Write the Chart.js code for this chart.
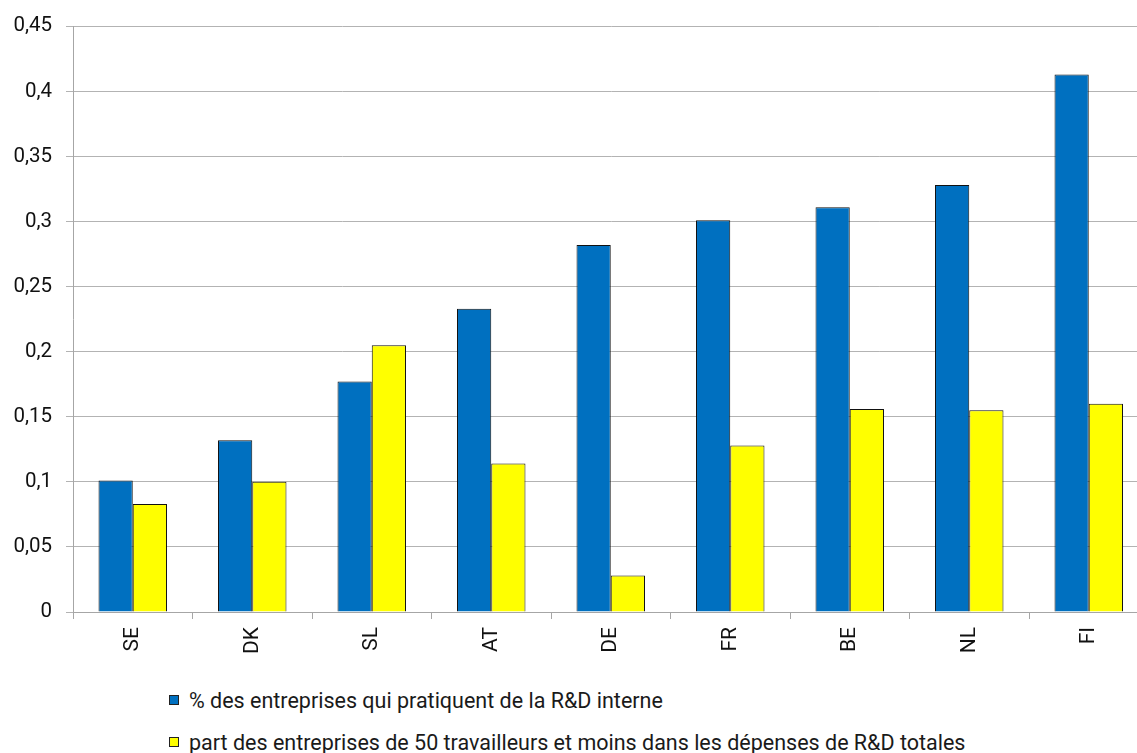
<!DOCTYPE html>
<html lang="fr">
<head>
<meta charset="utf-8">
<title>R&amp;D interne et part des petites entreprises</title>
<script src="https://cdn.jsdelivr.net/npm/chart.js@4/dist/chart.umd.min.js"></script>
<style>
  html, body { margin: 0; padding: 0; background: #fff; overflow: hidden; }
  #wrap { position: relative; width: 1137px; height: 753px; overflow: hidden; }
  #chartBox { position: absolute; left: 0; top: 0; width: 1160px; height: 670px; }
  #legend { position: absolute; left: 169px; top: 689px; font-family: Roboto, "Liberation Sans", sans-serif; font-size: 21.5px; color: #1a1a1a; }
  .item { display: flex; align-items: center; height: 22px; margin-bottom: 20px; white-space: nowrap; }
  .swatch { width: 10px; height: 10px; border: 1px solid #222; margin-right: 10px; box-sizing: border-box; flex: none; }
</style>
</head>
<body>
<div id="wrap">
  <div id="chartBox"><canvas id="chart" width="1160" height="670"></canvas></div>
  <div id="legend"></div>
</div>
<script>
// Pays
const categories = ['SE', 'DK', 'SL', 'AT', 'DE', 'FR', 'BE', 'NL', 'FI'];

// Séries
const seriesNames = [
  '% des entreprises qui pratiquent de la R&D interne',
  'part des entreprises de 50 travailleurs et moins dans les dépenses de R&D totales'
];
const rdInterne = [0.101, 0.132, 0.177, 0.233, 0.282, 0.301, 0.311, 0.328, 0.413];
const partPetites = [0.083, 0.100, 0.205, 0.114, 0.028, 0.128, 0.156, 0.155, 0.160];

// Graduations de l'axe vertical
const yTicks = [0, 0.05, 0.1, 0.15, 0.2, 0.25, 0.3, 0.35, 0.4, 0.45];

const colors = ['#0070C0', '#FFFF00'];
const fontFamily = 'Roboto, "Liberation Sans", sans-serif';

const fmt = v => String(Math.round(v * 100) / 100).replace('.', ',');

const chart = new Chart(document.getElementById('chart'), {
  type: 'bar',
  data: {
    labels: categories,
    datasets: [
      { label: seriesNames[0], data: rdInterne, backgroundColor: colors[0], borderColor: '#111', borderWidth: 1 },
      { label: seriesNames[1], data: partPetites, backgroundColor: colors[1], borderColor: '#111', borderWidth: 1 }
    ]
  },
  options: {
    responsive: false,
    animation: false,
    layout: { padding: { top: 23, right: 11.5, bottom: 0, left: 0 } },
    plugins: { legend: { display: false }, tooltip: { enabled: false } },
    datasets: { bar: { categoryPercentage: 0.573, barPercentage: 1 } },
    scales: {
      x: {
        grid: { drawOnChartArea: false, offset: true, color: '#a6a6a6', tickLength: 7 },
        border: { color: '#a6a6a6' },
        ticks: {
          minRotation: 90, maxRotation: 90, padding: 8,
          color: '#111', font: { family: fontFamily, size: 21 }
        },
        afterFit: s => { s.height = 58; }
      },
      y: {
        min: 0, max: 0.45,
        afterBuildTicks: s => { s.ticks = yTicks.map(v => ({ value: v })); },
        grid: { color: '#b3b3b3', tickLength: 7 },
        border: { color: '#a6a6a6' },
        ticks: {
          padding: 14, color: '#111',
          font: { family: fontFamily, size: 20.5 },
          callback: v => fmt(v)
        },
        afterFit: s => { s.width = 73; }
      }
    }
  }
});

// Légende sur deux lignes
const legend = document.getElementById('legend');
chart.data.datasets.forEach(ds => {
  const row = document.createElement('div');
  row.className = 'item';
  const sw = document.createElement('span');
  sw.className = 'swatch';
  sw.style.background = ds.backgroundColor;
  const txt = document.createElement('span');
  txt.textContent = ds.label;
  row.appendChild(sw);
  row.appendChild(txt);
  legend.appendChild(row);
});
</script>
</body>
</html>
